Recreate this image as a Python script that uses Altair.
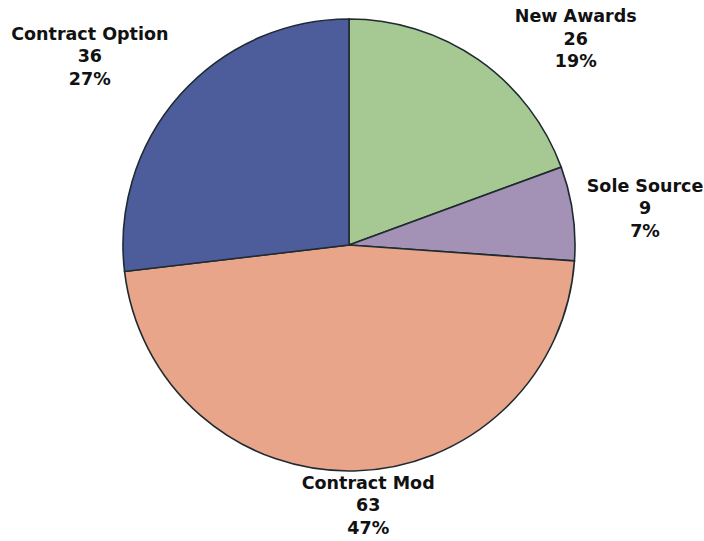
import altair as alt
import pandas as pd

categories = ["New Awards", "Sole Source", "Contract Mod", "Contract Option"]
counts = [26, 9, 63, 36]
colors = ["#A6C893", "#A491B6", "#E8A589", "#4D5D9C"]

df = pd.DataFrame({"category": categories, "count": counts, "order": list(range(len(categories)))})

CX, CY, R = 349, 245, 226
FONT = "DejaVu Sans"

base = (
    alt.Chart(df)
    .transform_joinaggregate(total="sum(count)")
    .transform_window(cum="sum(count)", sort=[alt.SortField("order")], frame=[None, 0])
    .transform_calculate(t1="datum.cum / datum.total * 2 * PI")
    .transform_calculate(t0="(datum.cum - datum.count) / datum.total * 2 * PI")
    .transform_calculate(mid="(datum.cum - datum.count / 2) / datum.total * 2 * PI")
    .transform_calculate(pct="round(datum.count / datum.total * 100) + '%'")
    .transform_calculate(label="datum.category + '\\n' + datum.count + '\\n' + datum.pct")
)

arcs = base.mark_arc(
    radius=R, x=CX, y=CY, stroke="#1F2B30", strokeWidth=1.6
).encode(
    theta=alt.Theta("t0:Q", scale=None),
    theta2="t1:Q",
    color=alt.Color("category:N", scale=alt.Scale(domain=categories, range=colors), legend=None),
)

# label placement (style): radius, dx, dy per slice
placement = {
    "Contract Option": (300, -35, -11),
    "New Awards": (300, 55, 18),
    "Sole Source": (300, -1, -16),
    "Contract Mod": (265, 13, -26),
}

layers = [arcs]
for cat in categories:
    r, dx, dy = placement[cat]
    layers.append(
        base.transform_filter(alt.datum.category == cat)
        .mark_text(
            radius=r, x=CX, y=CY, dx=dx, dy=dy,
            lineBreak="\n", font=FONT, fontWeight="bold", fontSize=17.5,
            lineHeight=22.5, align="center", baseline="middle", color="#111111",
        )
        .encode(theta=alt.Theta("mid:Q", scale=None), text="label:N")
    )

chart = (
    alt.layer(*layers)
    .properties(width=704, height=541, padding=0, autosize=alt.AutoSizeParams(type="none"))
    .configure_view(stroke=None)
    .configure(background="white")
)

chart.save("out.html", embed_options={"renderer": "svg", "actions": False})
